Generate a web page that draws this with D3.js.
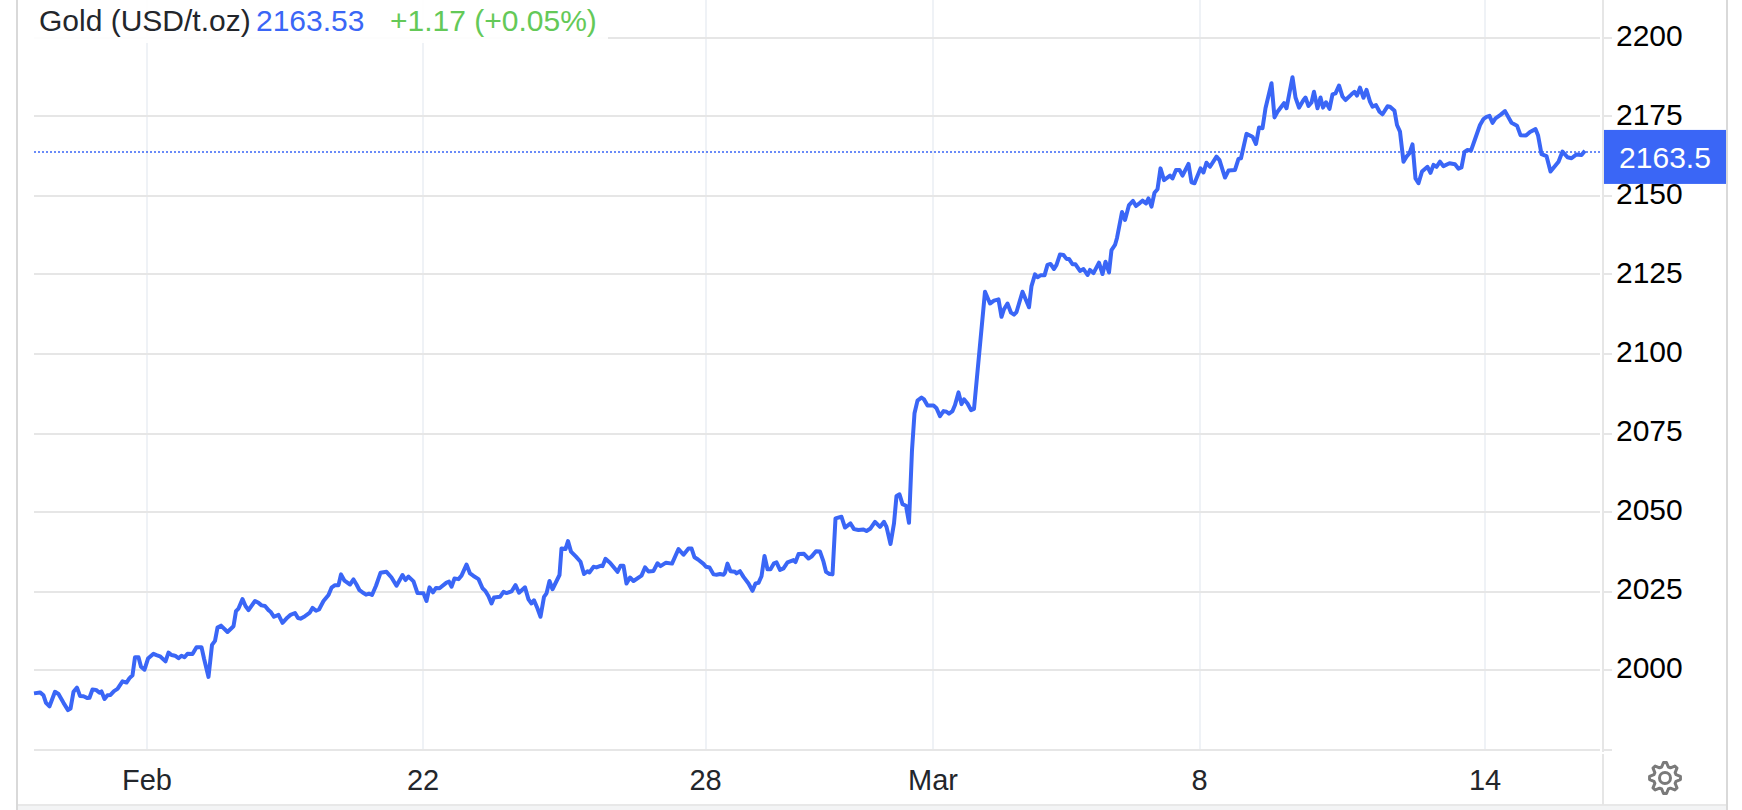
<!DOCTYPE html>
<html>
<head>
<meta charset="utf-8">
<title>Gold</title>
<script src="https://cdnjs.cloudflare.com/ajax/libs/d3/7.8.5/d3.min.js"></script>
<style>
    html, body { margin: 0; padding: 0; background: #fff; }
    svg { display: block; font-family: "Liberation Sans", Arial, sans-serif; }
</style>
</head>
<body>
<svg id="chart" width="1742" height="810"></svg>
<script>
// hours along the session axis
const hours = [
    0.0,1.2,1.9,2.4,3.1,4.2,4.9,5.9,6.8,7.3,7.9,8.6,9.2,9.9,10.7,11.1,11.7,12.4,13.1,13.5,14.1,14.7,15.3,16.0,16.7,17.7,18.5,19.1,19.7,20.2,
    20.9,21.4,22.1,22.8,23.9,24.5,25.2,26.3,26.9,27.5,28.2,28.9,29.5,30.1,30.7,31.7,32.5,33.5,34.0,34.9,35.6,36.2,36.7,37.4,38.7,39.9,40.4,40.9,41.7,42.3,
    42.9,44.2,44.9,45.5,46.2,46.9,47.3,48.0,48.9,49.7,50.7,51.3,52.2,52.8,53.3,54.2,55.1,55.7,56.4,57.0,57.9,58.9,59.5,60.2,60.9,61.4,62.1,63.2,63.9,64.5,
    65.1,65.9,66.4,67.0,67.6,68.4,69.3,70.5,71.5,72.5,73.7,74.3,74.9,75.9,76.7,77.9,78.5,79.1,79.8,80.4,81.1,82.5,83.0,83.5,84.1,84.9,85.5,86.5,87.2,87.9,
    88.9,89.7,90.3,90.9,91.5,92.0,93.2,93.9,94.5,95.5,96.3,97.0,98.2,98.9,99.5,100.0,100.7,101.3,102.0,102.5,103.1,103.7,105.1,105.5,106.3,106.8,107.4,108.4,109.3,110.0,
    110.7,111.1,111.9,112.5,113.3,113.7,114.3,115.2,116.7,117.3,117.9,118.5,119.2,119.9,121.5,122.2,122.9,123.9,124.7,125.3,126.4,127.6,128.9,129.9,130.9,131.5,132.1,132.8,133.9,134.4,
    135.1,135.9,136.5,137.2,137.9,138.2,138.7,139.3,140.2,140.5,141.2,141.9,142.9,143.7,144.3,144.9,145.5,146.1,146.7,147.3,148.0,148.5,149.2,149.9,150.7,151.9,152.3,152.9,154.0,154.9,
    155.5,156.4,157.2,157.9,158.4,159.1,159.7,160.3,161.5,162.2,163.3,164.0,164.9,165.9,166.5,167.3,168.2,169.2,170.0,170.5,171.3,172.0,172.5,173.1,173.7,174.4,175.0,175.6,176.1,176.7,
    177.5,178.0,178.7,179.9,180.5,181.2,181.9,182.5,183.0,183.7,184.2,184.9,185.5,186.0,186.7,187.4,188.0,190.2,191.2,192.0,192.9,193.5,194.0,194.7,195.4,196.0,196.5,197.7,199.0,199.5,
    200.2,200.7,201.3,202.1,202.7,203.3,204.0,204.5,205.2,205.9,206.5,207.0,207.7,208.3,209.2,209.9,210.7,211.2,211.9,213.0,213.7,214.3,215.0,215.5,216.2,216.6,217.6,218.2,219.0,219.8,
    220.4,221.2,221.7,222.4,222.9,223.5,224.1,224.7,225.3,226.0,227.2,227.7,228.4,229.1,229.7,230.9,231.5,232.1,233.3,233.9,234.5,235.2,236.5,237.1,238.2,238.9,240.2,240.9,241.4,242.5,
    243.7,244.4,245.0,245.7,246.3,247.5,248.1,248.7,250.0,250.5,251.7,252.3,253.0,253.9,254.3,254.9,255.5,256.0,256.7,257.3,257.8,258.4,259.1,259.7,260.3,261.0,261.7,262.3,263.5,264.1,
    264.6,265.2,265.9,266.5,267.2,267.7,268.4,269.1,269.7,270.7,271.2,272.1,272.6,273.2,273.9,274.5,275.1,275.7,276.3,276.9,277.6,278.7,279.3,279.9,280.5,281.2,281.9,283.1,284.2,284.9,
    285.5,286.1,286.7,287.4,288.2,289.2,289.9,290.5,291.1,291.7,292.3,293.3,294.2,295.5,296.6,297.3,298.4,299.2,300.3,300.8,301.5,302.5,303.3,304.9,305.7,306.7,307.5,308.5,308.9,309.5,
    310.2
];

const prices = [
    1992.9,1993.2,1992.3,1989.9,1988.8,1993.4,1992.7,1989.9,1987.6,1988.1,1993.4,1994.7,1992.1,1992.0,1991.4,1991.5,1994.1,1994.0,1993.1,1993.5,1991.1,1992.3,1992.4,1993.6,1994.3,1996.7,1996.3,1997.7,1998.6,2004.3,
    2004.3,2001.3,2000.4,2003.9,2005.4,2005.0,2004.6,2003.0,2005.8,2005.0,2004.8,2004.0,2004.8,2004.3,2005.4,2005.3,2007.5,2007.5,2003.9,1998.1,2008.2,2009.5,2013.7,2014.3,2012.3,2014.1,2018.9,2019.7,2022.7,2020.5,
    2019.2,2022.1,2021.5,2020.7,2020.5,2019.2,2018.7,2017.1,2017.7,2015.2,2016.9,2017.7,2018.3,2016.7,2016.5,2017.3,2018.3,2019.9,2019.0,2019.4,2022.1,2024.0,2026.3,2027.1,2027.1,2030.5,2028.5,2027.3,2028.9,2027.3,
    2025.5,2024.6,2024.1,2024.4,2024.0,2026.9,2031.0,2031.3,2029.5,2026.9,2030.3,2028.7,2029.8,2028.3,2024.6,2024.5,2022.1,2026.4,2024.8,2026.2,2026.1,2027.9,2028.2,2026.6,2029.2,2029.0,2030.1,2033.6,2030.8,2030.0,
    2029.0,2026.1,2025.2,2023.6,2021.3,2023.2,2023.4,2025.0,2024.6,2025.1,2027.1,2024.7,2026.4,2022.6,2021.3,2022.3,2019.7,2017.1,2023.4,2024.5,2028.4,2025.8,2030.3,2038.7,2038.5,2041.0,2037.7,2036.1,2034.5,2030.6,
    2031.5,2031.1,2032.9,2032.7,2033.2,2033.1,2035.4,2034.2,2031.3,2033.2,2033.2,2027.6,2029.5,2028.4,2030.1,2032.7,2031.4,2031.6,2034.0,2033.1,2034.2,2033.9,2038.5,2036.7,2038.7,2038.7,2035.9,2035.2,2033.8,2032.9,
    2032.7,2030.5,2030.4,2030.6,2030.4,2031.0,2033.9,2031.5,2031.3,2030.8,2031.5,2029.7,2027.6,2025.3,2027.6,2027.8,2029.9,2036.3,2032.1,2032.1,2034.0,2034.3,2031.9,2032.4,2034.3,2035.0,2034.4,2036.9,2037.0,2035.5,
    2036.1,2037.8,2037.7,2034.5,2031.3,2030.6,2030.5,2048.2,2048.7,2045.3,2046.6,2044.8,2044.5,2044.7,2044.2,2045.0,2047.1,2045.5,2047.1,2045.5,2040.1,2046.6,2055.3,2055.8,2052.7,2052.2,2046.8,2069.8,2081.4,2085.4,
    2086.4,2085.8,2083.9,2083.9,2083.0,2080.5,2082.1,2081.9,2081.3,2082.1,2084.0,2088.0,2084.3,2085.8,2084.5,2082.4,2082.8,2119.8,2116.1,2117.0,2117.4,2111.9,2114.3,2116.1,2113.2,2112.6,2113.4,2119.8,2114.9,2121.6,
    2125.3,2124.4,2125.0,2125.0,2128.3,2128.6,2127.0,2128.3,2131.6,2131.4,2130.2,2130.2,2128.5,2128.5,2126.4,2127.0,2125.1,2126.7,2125.7,2129.0,2125.4,2129.3,2125.9,2133.0,2134.6,2136.8,2145.0,2142.5,2147.2,2148.5,
    2146.9,2147.9,2148.6,2147.7,2149.3,2146.7,2151.1,2152.2,2158.8,2155.1,2156.5,2155.6,2158.3,2158.3,2156.5,2160.2,2154.4,2154.1,2158.8,2157.5,2160.6,2159.3,2162.5,2161.4,2155.9,2158.1,2158.3,2161.8,2162.0,2169.7,
    2168.8,2166.5,2171.7,2171.5,2177.8,2185.7,2174.9,2176.7,2179.4,2177.8,2187.6,2181.2,2178.0,2180.4,2181.2,2178.5,2179.6,2183.0,2177.8,2181.2,2178.0,2179.7,2177.6,2182.2,2182.5,2185.0,2181.5,2180.4,2182.2,2183.0,
    2181.8,2184.3,2181.1,2183.6,2179.9,2178.3,2178.8,2176.7,2175.9,2178.4,2178.3,2177.0,2172.5,2170.4,2160.9,2162.5,2163.6,2166.4,2155.6,2154.1,2157.8,2159.3,2157.4,2159.9,2159.3,2160.9,2159.5,2160.4,2160.1,2158.7,
    2159.1,2164.0,2164.6,2164.4,2168.0,2172.5,2174.4,2175.1,2175.4,2173.2,2174.6,2175.7,2176.9,2173.2,2172.3,2169.3,2169.2,2170.3,2171.2,2169.3,2163.3,2162.7,2157.8,2160.9,2164.1,2162.3,2162.0,2163.2,2163.1,2163.0,
    2164.4
];

const priceTicks = [1975, 2000, 2025, 2050, 2075, 2100, 2125, 2150, 2175, 2200];
const timeTicks = [22.6, 77.8, 134.3, 179.8, 233.1, 290.2];
const timeLabels = ["Feb", "22", "28", "Mar", "8", "14"];
const lastLevel = 2164;
const lastLabel = "2163.5";
const header = ["Gold (USD/t.oz)", "2163.53", "+1.17 (+0.05%)"];

function Draw_gold_chart(){
    const margin = { top: 38, right: 142, bottom: 60, left: 34 },
          width = 1742,
          height = 810;
    const plotRight = width - margin.right,
          plotBottom = height - margin.bottom;

    const blue = "#3a66f6";
    const svg = d3.select("#chart");

    const x = d3.scaleLinear().domain([0, 313.2]).range([margin.left, plotRight]);
    const y = d3.scaleLinear().domain([1975, 2200]).range([plotBottom, margin.top]);

    // the source grid sits on even pixels
    const snapY = d => Math.round((y(d) - 0.4) / 2) * 2;

    // frame
    svg.append("rect").attr("x", 16).attr("y", 805).attr("width", 1712).attr("height", 5).attr("fill", "#f3f4f5");
    svg.append("line").attr("x1", 17).attr("x2", 17).attr("y1", 0).attr("y2", 810).attr("stroke", "#d9d9d9").attr("stroke-width", 2);
    svg.append("line").attr("x1", 1727).attr("x2", 1727).attr("y1", 0).attr("y2", 810).attr("stroke", "#d9d9d9").attr("stroke-width", 2);
    svg.append("line").attr("x1", 18).attr("x2", 1726).attr("y1", 805).attr("y2", 805).attr("stroke", "#e8e8e8").attr("stroke-width", 2);

    // vertical grid
    const xAxis = d3.axisBottom(x)
        .tickValues(timeTicks)
        .tickFormat((d, i) => timeLabels[i])
        .tickSize(0)
        .tickPadding(19)
        .offset(0);

    svg.selectAll(".v-grid")
        .data(timeTicks)
        .enter().append("line")
        .attr("class", "v-grid")
        .attr("x1", d => Math.round(x(d)))
        .attr("x2", d => Math.round(x(d)))
        .attr("y1", 0)
        .attr("y2", plotBottom)
        .attr("stroke", "#eff2f6")
        .attr("stroke-width", 2);

    // horizontal grid, runs out past the separator as a tick
    const yAxis = d3.axisRight(y)
        .tickValues(priceTicks)
        .tickFormat(d => d === 1975 ? "" : d)
        .tickSize(0)
        .tickPadding(16)
        .offset(0);

    svg.selectAll(".h-grid")
        .data(priceTicks)
        .enter().append("line")
        .attr("class", "h-grid")
        .attr("x1", margin.left)
        .attr("x2", plotRight)
        .attr("y1", snapY)
        .attr("y2", snapY)
        .attr("stroke", "#e6e6e6")
        .attr("stroke-width", 2);

    svg.selectAll(".h-tick")
        .data(priceTicks)
        .enter().append("line")
        .attr("class", "h-tick")
        .attr("x1", plotRight + 4)
        .attr("x2", plotRight + 12)
        .attr("y1", snapY)
        .attr("y2", snapY)
        .attr("stroke", "#e6e6e6")
        .attr("stroke-width", 2);

    // separator between plot and price scale
    svg.append("line").attr("x1", plotRight + 3).attr("x2", plotRight + 3).attr("y1", 0).attr("y2", plotBottom + 2).attr("stroke", "#e6e6e6").attr("stroke-width", 2);
    svg.append("line").attr("x1", plotRight + 3).attr("x2", plotRight + 3).attr("y1", plotBottom + 4).attr("y2", 805).attr("stroke", "#e6e6e6").attr("stroke-width", 2);

    // header sits on a near opaque white band
    svg.append("rect").attr("x", margin.left).attr("y", 0).attr("width", 574).attr("height", 43).attr("fill", "#fff").attr("fill-opacity", 0.9);

    const gx = svg.append("g")
        .attr("transform", `translate(0,${plotBottom})`)
        .call(xAxis);
    gx.select(".domain").remove();
    gx.selectAll("text").attr("font-size", 29).attr("font-family", "Liberation Sans").attr("fill", "#23262b");

    // price level of the last quote
    svg.append("line")
        .attr("x1", margin.left)
        .attr("x2", plotRight)
        .attr("y1", y(lastLevel))
        .attr("y2", y(lastLevel))
        .attr("stroke", blue)
        .attr("stroke-width", 1.5)
        .attr("stroke-dasharray", "2 2");

    const line = d3.line()
        .x((d, i) => x(hours[i]))
        .y(d => y(d));

    svg.append("path")
        .datum(prices)
        .attr("d", line)
        .attr("fill", "none")
        .attr("stroke", blue)
        .attr("stroke-width", 4)
        .attr("stroke-linejoin", "round");

    const gy = svg.append("g")
        .attr("transform", `translate(${plotRight},0)`)
        .call(yAxis);
    gy.select(".domain").remove();
    gy.selectAll("text").attr("font-size", 30).attr("font-family", "Liberation Sans").attr("fill", "#000").attr("dy", "0.25em");

    // last price tag
    svg.append("rect")
        .attr("x", plotRight + 4)
        .attr("y", y(lastLevel) - 22)
        .attr("width", 122)
        .attr("height", 54)
        .attr("fill", blue);
    svg.append("text")
        .attr("x", plotRight + 65)
        .attr("y", y(lastLevel) + 16)
        .attr("text-anchor", "middle")
        .attr("font-size", 30)
        .attr("fill", "#fff")
        .text(lastLabel);

    // header
    const headerX = [39, 256, 390];
    const headerFill = ["#23262b", blue, "#64c958"];
    svg.selectAll(".header")
        .data(header)
        .enter().append("text")
        .attr("class", "header")
        .attr("x", (d, i) => headerX[i])
        .attr("y", 31)
        .attr("font-size", 30)
        .attr("fill", (d, i) => headerFill[i])
        .text(d => d);

    // settings gear
    const teeth = 8, outer = 15.5, inner = 11.5;
    const gearPoints = d3.range(teeth * 4).map(i => {
        const a = (i - 0.5) / (teeth * 4) * 2 * Math.PI;
        return [a, (i % 4 < 2) ? outer : inner];
    });
    const gear = svg.append("g").attr("transform", "translate(1665,778)");
    gear.append("path")
        .attr("d", d3.lineRadial().curve(d3.curveLinearClosed)(gearPoints))
        .attr("fill", "none")
        .attr("stroke", "#7a7a7a")
        .attr("stroke-width", 3)
        .attr("stroke-linejoin", "round");
    gear.append("circle").attr("r", 5.5).attr("fill", "none").attr("stroke", "#7a7a7a").attr("stroke-width", 3);
}

Draw_gold_chart();
</script>
</body>
</html>
